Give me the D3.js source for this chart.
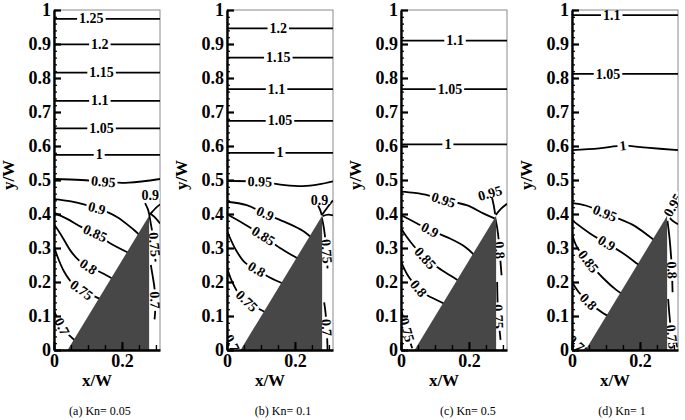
<!DOCTYPE html>
<html>
<head>
<meta charset="utf-8">
<script src="https://cdn.jsdelivr.net/npm/d3@7"></script>
<style>
body { margin: 0; background: #fff; }
svg { display: block; }
</style>
</head>
<body>
<script>
var width = 685, height = 420;
var plot_w = 106, plot_h = 340, top_y = 10;
var x_max = 0.312;
var panel_x = [54, 227, 401, 572];
var caption_x = [100, 283, 468, 622];
var serif = "'Liberation Serif', 'Times New Roman', Times, serif";

var captions = ['(a) Kn= 0.05', '(b) Kn= 0.1', '(c) Kn= 0.5', '(d) Kn= 1'];
var y_ticks = [0, 0.1, 0.2, 0.3, 0.4, 0.5, 0.6, 0.7, 0.8, 0.9, 1];
var y_labels = ['0', '0.1', '0.2', '0.3', '0.4', '0.5', '0.6', '0.7', '0.8', '0.9', '1'];
var x_ticks = [0, 0.2];
var x_labels = ['0', '0.2'];

// the wedge (x/W, y/W)
var wedge = [[0.04, 0], [0.28, 0.395], [0.28, 0]];

// contour: [level label, label position, points, optional fixed angle]; '' = unlabelled piece
var contours_a = [
  ['1.25', [0.11, 0.974], [[0, 0.974], [0.312, 0.974]]],
  ['1.2', [0.135, 0.899], [[0, 0.899], [0.312, 0.899]]],
  ['1.15', [0.14, 0.816], [[0, 0.816], [0.312, 0.816]]],
  ['1.1', [0.135, 0.733], [[0, 0.733], [0.312, 0.733]]],
  ['1.05', [0.14, 0.652], [[0, 0.652], [0.312, 0.652]]],
  ['1', [0.133, 0.574], [[0, 0.574], [0.312, 0.574]]],
  ['0.95', [0.145, 0.495], [[0, 0.503], [0.08, 0.5], [0.145, 0.495], [0.22, 0.492], [0.312, 0.503]]],
  ['0.9', [0.126, 0.417], [[0, 0.444], [0.05, 0.437], [0.126, 0.417], [0.184, 0.392], [0.233, 0.355], [0.255, 0.335]]],
  ['0.85', [0.121, 0.343], [[0, 0.404], [0.04, 0.385], [0.08, 0.362], [0.121, 0.343], [0.165, 0.314], [0.225, 0.283]]],
  ['0.8', [0.101, 0.245], [[0, 0.37], [0.02, 0.34], [0.05, 0.29], [0.075, 0.262], [0.101, 0.245], [0.14, 0.227], [0.18, 0.205]]],
  ['0.75', [0.081, 0.176], [[0, 0.304], [0.012, 0.27], [0.03, 0.23], [0.055, 0.195], [0.081, 0.176], [0.11, 0.162], [0.14, 0.148]]],
  ['0.7', [0.023, 0.069], [[0, 0.115], [0.012, 0.09], [0.023, 0.069], [0.04, 0.048], [0.065, 0.025]]],
  ['0.9', [0.283, 0.456], [[0.268, 0.432], [0.276, 0.415], [0.28, 0.4]], 0],
  ['', null, [[0.282, 0.402], [0.297, 0.39], [0.312, 0.372]]],
  ['', null, [[0.282, 0.398], [0.3, 0.418], [0.312, 0.428]]],
  ['0.75', [0.295, 0.31], [[0.28, 0.4], [0.287, 0.36], [0.292, 0.33], [0.296, 0.29], [0.299, 0.26]]],
  ['0.7', [0.297, 0.147], [[0.285, 0.25], [0.29, 0.22], [0.296, 0.18], [0.298, 0.12], [0.296, 0.09]]]
];

var contours_b = [
  ['1.2', [0.151, 0.946], [[0, 0.946], [0.312, 0.946]]],
  ['1.15', [0.151, 0.86], [[0, 0.86], [0.312, 0.86]]],
  ['1.1', [0.146, 0.767], [[0, 0.767], [0.312, 0.767]]],
  ['1.05', [0.156, 0.674], [[0, 0.674], [0.312, 0.674]]],
  ['1', [0.156, 0.58], [[0, 0.58], [0.312, 0.58]]],
  ['0.95', [0.097, 0.495], [[0, 0.497], [0.097, 0.495], [0.17, 0.485], [0.224, 0.482], [0.27, 0.487], [0.312, 0.496]]],
  ['0.9', [0.112, 0.401], [[0, 0.436], [0.058, 0.426], [0.112, 0.401], [0.176, 0.374], [0.224, 0.35], [0.255, 0.325]]],
  ['0.85', [0.107, 0.335], [[0, 0.399], [0.048, 0.372], [0.107, 0.335], [0.156, 0.3], [0.205, 0.271], [0.22, 0.262]]],
  ['0.8', [0.087, 0.237], [[0, 0.35], [0.028, 0.291], [0.053, 0.257], [0.087, 0.237], [0.126, 0.213], [0.17, 0.193]]],
  ['0.75', [0.058, 0.144], [[0, 0.242], [0.014, 0.203], [0.033, 0.168], [0.058, 0.144], [0.092, 0.122], [0.12, 0.108]]],
  ['0.7', [0.014, 0.02], [[0, 0.05], [0.008, 0.032], [0.014, 0.02], [0.024, 0]]],
  ['0.9', [0.272, 0.44], [[0.268, 0.425], [0.275, 0.41], [0.279, 0.396]], 0],
  ['', null, [[0.28, 0.398], [0.296, 0.42], [0.312, 0.44]]],
  ['', null, [[0.281, 0.394], [0.298, 0.398], [0.312, 0.396]]],
  ['0.75', [0.293, 0.29], [[0.279, 0.39], [0.285, 0.36], [0.29, 0.32], [0.294, 0.27], [0.296, 0.24]]],
  ['0.7', [0.293, 0.066], [[0.286, 0.14], [0.29, 0.11], [0.293, 0.066], [0.295, 0.03], [0.296, 0]]]
];

var contours_c = [
  ['1.1', [0.159, 0.91], [[0, 0.91], [0.312, 0.91]]],
  ['1.05', [0.144, 0.767], [[0, 0.767], [0.312, 0.767]]],
  ['1', [0.138, 0.605], [[0, 0.605], [0.312, 0.605]]],
  ['0.95', [0.125, 0.441], [[0, 0.466], [0.04, 0.462], [0.08, 0.455], [0.125, 0.441], [0.193, 0.426], [0.242, 0.402], [0.275, 0.387]]],
  ['0.95', [0.262, 0.461], [[0.268, 0.448], [0.273, 0.425], [0.277, 0.4]], -15],
  ['', null, [[0.279, 0.397], [0.294, 0.415], [0.312, 0.43]]],
  ['0.9', [0.085, 0.353], [[0, 0.397], [0.046, 0.373], [0.085, 0.353], [0.144, 0.328], [0.188, 0.304], [0.215, 0.28]]],
  ['0.85', [0.071, 0.27], [[0, 0.358], [0.015, 0.335], [0.031, 0.314], [0.071, 0.27], [0.105, 0.245], [0.144, 0.22], [0.175, 0.2]]],
  ['0.8', [0.051, 0.181], [[0, 0.26], [0.022, 0.216], [0.051, 0.181], [0.076, 0.162], [0.105, 0.147], [0.13, 0.135]]],
  ['0.75', [0.017, 0.059], [[0, 0.12], [0.008, 0.09], [0.017, 0.059], [0.025, 0.03], [0.033, 0.005]]],
  ['0.8', [0.29, 0.294], [[0.277, 0.39], [0.283, 0.36], [0.288, 0.32], [0.292, 0.27], [0.296, 0.22]]],
  ['0.75', [0.286, 0.098], [[0.283, 0.2], [0.284, 0.15], [0.286, 0.098], [0.29, 0.06], [0.293, 0.03]]]
];

var contours_d = [
  ['1.1', [0.117, 0.985], [[0, 0.985], [0.312, 0.985]]],
  ['1.05', [0.106, 0.812], [[0, 0.812], [0.312, 0.812]]],
  ['1', [0.15, 0.601], [[0, 0.588], [0.08, 0.593], [0.15, 0.601], [0.22, 0.595], [0.312, 0.588]]],
  ['0.95', [0.097, 0.402], [[0, 0.432], [0.04, 0.425], [0.097, 0.402], [0.179, 0.368], [0.229, 0.333], [0.25, 0.318]]],
  ['0.9', [0.102, 0.314], [[0, 0.382], [0.053, 0.343], [0.102, 0.314], [0.151, 0.284], [0.19, 0.255], [0.205, 0.243]]],
  ['0.85', [0.048, 0.26], [[0, 0.343], [0.014, 0.304], [0.048, 0.26], [0.092, 0.211], [0.131, 0.176], [0.155, 0.16]]],
  ['0.8', [0.048, 0.142], [[0, 0.2], [0.02, 0.17], [0.048, 0.142], [0.092, 0.108], [0.11, 0.098]]],
  ['0.75', [0.019, 0.012], [[0, 0.03], [0.019, 0.012], [0.032, 0]]],
  ['0.95', [0.298, 0.426], [[0.279, 0.392], [0.287, 0.405], [0.292, 0.415]], -60],
  ['', null, [[0.281, 0.395], [0.296, 0.38], [0.312, 0.37]]],
  ['0.8', [0.294, 0.235], [[0.281, 0.38], [0.287, 0.33], [0.292, 0.27], [0.294, 0.235], [0.296, 0.17]]],
  ['0.75', [0.294, 0.039], [[0.283, 0.15], [0.287, 0.1], [0.292, 0.05], [0.298, 0]]]
];

var all_contours = [contours_a, contours_b, contours_c, contours_d];

var svg = d3.select('body').append('svg')
  .attr('width', width).attr('height', height)
  .attr('font-family', serif);

// angle of the contour at the label (screen degrees)
function label_angle(p, pts) {
  var best = 1e9, ang = 0;
  for (var k = 0; k < pts.length - 1; k++) {
    var a = pts[k], b = pts[k + 1];
    var dx = b[0] - a[0], dy = b[1] - a[1];
    var t = ((p[0] - a[0]) * dx + (p[1] - a[1]) * dy) / (dx * dx + dy * dy || 1);
    t = Math.max(0, Math.min(1, t));
    var qx = a[0] + t * dx - p[0], qy = a[1] + t * dy - p[1];
    var dist = qx * qx + qy * qy;
    if (dist < best) { best = dist; ang = Math.atan2(dy, dx) * 180 / Math.PI; }
  }
  if (ang > 95) ang -= 180;
  if (ang < -95) ang += 180;
  return ang;
}

function draw_panel(i) {
  var contours = all_contours[i];
  var g = svg.append('g').attr('transform', 'translate(' + panel_x[i] + ',' + top_y + ')');
  var x = d3.scaleLinear().domain([0, x_max]).range([0, plot_w]);
  var y = d3.scaleLinear().domain([0, 1]).range([plot_h, 0]);

  g.append('clipPath').attr('id', 'clip' + i)
    .append('rect').attr('width', plot_w).attr('height', plot_h);

  // thin frame
  g.append('rect')
    .attr('width', plot_w).attr('height', plot_h)
    .attr('fill', 'none').attr('stroke', '#8a8a8a').attr('stroke-width', 1);

  var inner = g.append('g').attr('clip-path', 'url(#clip' + i + ')');
  var line = d3.line().x(d => x(d[0])).y(d => y(d[1])).curve(d3.curveCatmullRom);

  inner.append('g').attr('class', 'contours')
    .selectAll('path').data(contours)
    .enter().append('path')
    .attr('d', d => line(d[2]))
    .attr('fill', 'none')
    .attr('stroke', '#000')
    .attr('stroke-width', 1.8);

  // inline labels
  contours.filter(c => c[0] !== '').forEach(function(c) {
    var px = x(c[1][0]), py = y(c[1][1]);
    var spts = c[2].map(d => [x(d[0]), y(d[1])]);
    var ang = c.length > 3 ? c[3] : label_angle([px, py], spts);
    var lg = inner.append('g').attr('transform', 'translate(' + px + ',' + py + ') rotate(' + ang + ')');
    var bg = lg.append('rect').attr('fill', '#fff');
    var t = lg.append('text')
      .attr('text-anchor', 'middle')
      .attr('dy', '0.33em')
      .style('font-family', serif)
      .style('font-size', '14px')
      .style('font-weight', 'bold')
      .text(c[0]);
    var bb = t.node().getBBox();
    bg.attr('x', bb.x - 2).attr('width', bb.width + 4).attr('y', -3.5).attr('height', 7);
  });

  // the wedge
  g.append('path')
    .attr('d', d3.line().x(d => x(d[0])).y(d => y(d[1]))(wedge) + 'Z')
    .attr('fill', '#474747');

  // axes
  g.append('g').attr('class', 'y_minor')
    .call(d3.axisLeft(y).tickValues(y.ticks(50)).tickSizeInner(-3).tickSizeOuter(0).tickFormat(''))
    .call(s => s.select('.domain').remove())
    .selectAll('line').attr('stroke-width', 1.2);
  var ya = g.append('g').attr('class', 'y_axis')
    .call(d3.axisLeft(y).tickValues(y_ticks).tickFormat((d, j) => y_labels[j])
      .tickSizeInner(-7).tickSizeOuter(0).tickPadding(3));
  ya.select('.domain').attr('stroke-width', 2.4);
  ya.selectAll('line').attr('stroke-width', 2.2);

  g.append('g').attr('class', 'x_minor')
    .attr('transform', 'translate(0,' + plot_h + ')')
    .call(d3.axisBottom(x).tickValues(x.ticks(6)).tickSizeInner(-5).tickSizeOuter(0).tickFormat(''))
    .call(s => s.select('.domain').remove())
    .selectAll('line').attr('stroke-width', 1.4);
  var xa = g.append('g').attr('class', 'x_axis')
    .attr('transform', 'translate(0,' + plot_h + ')')
    .call(d3.axisBottom(x).tickValues(x_ticks).tickFormat((d, j) => x_labels[j])
      .tickSizeInner(-8).tickSizeOuter(0).tickPadding(4));
  xa.select('.domain').attr('stroke-width', 2.4);
  xa.selectAll('line').attr('stroke-width', 2);

  g.selectAll('.y_axis, .x_axis, .y_minor, .x_minor').attr('font-family', serif);
  g.selectAll('.y_axis text, .x_axis text')
    .style('font-family', serif)
    .style('font-size', '18px')
    .style('font-weight', 'bold')
    .attr('fill', '#000');

  // axis titles
  g.append('text')
    .attr('transform', 'rotate(-90)')
    .attr('x', -165).attr('y', -40)
    .style('text-anchor', 'middle')
    .style('font-family', serif)
    .style('font-size', '17px').style('font-weight', 'bold')
    .text('y/W');
  g.append('text')
    .attr('x', 43).attr('y', plot_h + 36)
    .style('text-anchor', 'middle')
    .style('font-family', serif)
    .style('font-size', '17px').style('font-weight', 'bold')
    .text('x/W');

  svg.append('text')
    .attr('x', caption_x[i]).attr('y', 415)
    .style('text-anchor', 'middle')
    .style('font-family', serif)
    .style('font-size', '12px')
    .text(captions[i]);
}

for (var i = 0; i < 4; i++) draw_panel(i);
</script>
</body>
</html>
